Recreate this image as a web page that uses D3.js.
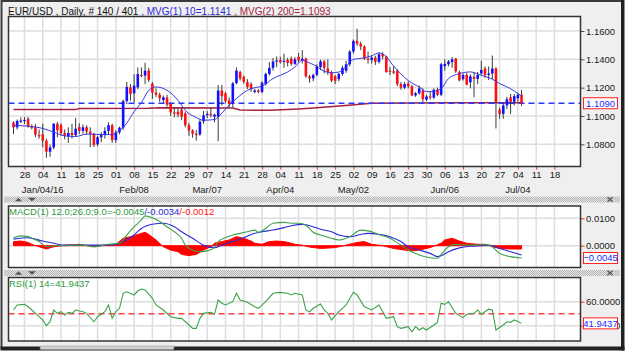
<!DOCTYPE html>
<html><head><meta charset="utf-8">
<script src="https://cdn.jsdelivr.net/npm/d3@7"></script>
<style>body{margin:0;background:#fff;}svg{display:block;font-family:"Liberation Sans",Arial,sans-serif;}</style>
</head><body><svg id="c" width="628" height="355"></svg>
<script>
// ---------- DATA ----------
const openV = [1.0953,1.0920,1.0963,1.0965,1.0979,1.0925,1.0920,1.0865,1.0870,1.0825,
1.0748,1.0778,1.0945,1.0935,1.0880,1.0855,1.0880,1.0865,1.0922,1.0895,
1.0920,1.0890,1.0875,1.0800,1.0850,1.0865,1.0895,1.0935,1.0830,1.0885,
1.0917,1.1105,1.1202,1.1160,1.1202,1.1290,1.1285,1.1320,1.1228,1.1165,
1.1150,1.1112,1.1130,1.1085,1.1025,1.1030,1.1045,1.1018,1.0935,1.0897,
1.0875,1.0870,1.0962,1.1005,1.1015,1.0995,1.0995,1.1180,1.1160,1.1110,
1.1085,1.1232,1.1310,1.1275,1.1240,1.1225,1.1170,1.1180,1.1170,1.1225,
1.1297,1.1340,1.1385,1.1395,1.1385,1.1395,1.1405,1.1368,1.1418,1.1392,
1.1405,1.1280,1.1265,1.1290,1.1345,1.1385,1.1335,1.1310,1.1280,1.1260,
1.1297,1.1320,1.1365,1.1455,1.1530,1.1510,1.1490,1.1405,1.1395,1.1412,
1.1382,1.1435,1.1420,1.1320,1.1315,1.1320,1.1225,1.1200,1.1230,1.1210,
1.1145,1.1160,1.1180,1.1115,1.1138,1.1130,1.1185,1.1150,1.1352,1.1365,
1.1380,1.1405,1.1310,1.1260,1.1290,1.1238,1.1275,1.1262,1.1300,1.1335,
1.1290,1.1300,1.1335,1.1045,1.1015,1.1075,1.1132,1.1100,1.1125,1.1150];
const highV = [1.0962,1.0975,1.0990,1.0993,1.0993,1.0940,1.0944,1.0905,1.0945,1.0840,
1.0798,1.0950,1.0958,1.0950,1.0905,1.0920,1.0945,1.0985,1.0948,1.0940,
1.0935,1.0920,1.0880,1.0860,1.0885,1.0920,1.0955,1.0945,1.0900,1.0925,
1.1115,1.1240,1.1225,1.1296,1.1343,1.1343,1.1376,1.1340,1.1240,1.1195,
1.1165,1.1145,1.1150,1.1095,1.1060,1.1055,1.1060,1.1030,1.0950,1.0907,
1.0900,1.0980,1.1035,1.1035,1.1058,1.1015,1.1218,1.1220,1.1170,1.1130,
1.1240,1.1342,1.1320,1.1285,1.1260,1.1238,1.1192,1.1190,1.1245,1.1305,
1.1380,1.1410,1.1420,1.1418,1.1440,1.1410,1.1420,1.1415,1.1445,1.1465,
1.1412,1.1290,1.1300,1.1365,1.1398,1.1395,1.1400,1.1320,1.1290,1.1305,
1.1355,1.1390,1.1465,1.1540,1.1616,1.1525,1.1500,1.1455,1.1425,1.1425,
1.1446,1.1450,1.1425,1.1345,1.1350,1.1330,1.1240,1.1240,1.1245,1.1220,
1.1170,1.1215,1.1195,1.1150,1.1170,1.1195,1.1200,1.1375,1.1400,1.1395,
1.1416,1.1410,1.1320,1.1300,1.1305,1.1295,1.1308,1.1310,1.1390,1.1350,
1.1350,1.1427,1.1345,1.1060,1.1090,1.1135,1.1155,1.1155,1.1165,1.1185];
const lowV = [1.0873,1.0905,1.0950,1.0942,1.0918,1.0905,1.0850,1.0840,1.0780,1.0705,
1.0712,1.0765,1.0850,1.0860,1.0835,1.0810,1.0840,1.0855,1.0873,1.0875,
1.0870,1.0780,1.0780,1.0785,1.0815,1.0840,1.0870,1.0810,1.0810,1.0870,
1.0900,1.1085,1.1108,1.1096,1.1190,1.1273,1.1225,1.1240,1.1120,1.1135,
1.1100,1.1090,1.1065,1.1000,1.0990,1.0990,1.0970,1.0920,1.0860,1.0846,
1.0826,1.0860,1.0945,1.0985,1.0990,1.0955,1.0822,1.1075,1.1090,1.1060,
1.1060,1.1225,1.1250,1.1228,1.1190,1.1170,1.1160,1.1160,1.1160,1.1215,
1.1285,1.1320,1.1345,1.1370,1.1340,1.1350,1.1355,1.1360,1.1380,1.1370,
1.1270,1.1235,1.1245,1.1280,1.1325,1.1300,1.1290,1.1240,1.1225,1.1245,
1.1285,1.1305,1.1350,1.1440,1.1495,1.1465,1.1395,1.1370,1.1370,1.1360,
1.1370,1.1400,1.1305,1.1290,1.1295,1.1210,1.1185,1.1190,1.1195,1.1140,
1.1135,1.1150,1.1098,1.1105,1.1115,1.1120,1.1140,1.1140,1.1320,1.1350,
1.1340,1.1305,1.1245,1.1250,1.1215,1.1195,1.1131,1.1225,1.1290,1.1270,
1.1255,1.1260,1.0912,1.0980,1.0980,1.1050,1.1015,1.1075,1.1100,1.1070];
const closeV = [1.0920,1.0965,1.0968,1.0972,1.0925,1.0918,1.0868,1.0860,1.0825,1.0748,
1.0778,1.0945,1.0900,1.0880,1.0860,1.0880,1.0865,1.0910,1.0895,1.0920,
1.0890,1.0875,1.0795,1.0850,1.0865,1.0895,1.0935,1.0830,1.0885,1.0917,
1.1105,1.1205,1.1155,1.1214,1.1296,1.1285,1.1320,1.1255,1.1165,1.1150,
1.1125,1.1132,1.1080,1.1025,1.1020,1.1010,1.0995,1.0935,1.0897,1.0875,
1.0865,1.0960,1.1005,1.1015,1.1005,1.1010,1.1180,1.1140,1.1105,1.1085,
1.1230,1.1320,1.1265,1.1240,1.1205,1.1190,1.1180,1.1170,1.1235,1.1297,
1.1340,1.1385,1.1392,1.1380,1.1390,1.1375,1.1368,1.1400,1.1392,1.1405,
1.1280,1.1265,1.1290,1.1350,1.1385,1.1340,1.1310,1.1250,1.1248,1.1297,
1.1340,1.1365,1.1455,1.1530,1.1510,1.1490,1.1405,1.1400,1.1412,1.1382,
1.1435,1.1420,1.1310,1.1315,1.1305,1.1225,1.1200,1.1225,1.1210,1.1145,
1.1160,1.1195,1.1118,1.1138,1.1130,1.1185,1.1150,1.1365,1.1368,1.1385,
1.1400,1.1315,1.1252,1.1290,1.1222,1.1280,1.1262,1.1290,1.1325,1.1290,
1.1300,1.1335,1.1100,1.1015,1.1075,1.1118,1.1100,1.1140,1.1150,1.1090];

const ma10Bar = [0,4,8,11,14,17,20,24,27,29,31,33,35,37,39,42,45,47,50,52,55,57,59,61,64,66,68,71,75,77,79,81,83,84,87,89,91,93,96,98,100,102,103,106,108,111,113,115,117,119,122,125,128,131,133,136,138,139];
const ma10Val = [1.0933,1.0928,1.0912,1.0886,1.0860,1.0855,1.0872,1.0869,1.0868,1.0897,1.0950,1.1030,1.1095,1.1180,1.1205,1.1181,1.1111,1.1040,1.0989,1.0970,1.0975,1.1020,1.1076,1.1123,1.1181,1.1200,1.1210,1.1264,1.1311,1.1346,1.1393,1.1374,1.1350,1.1330,1.1305,1.1310,1.1350,1.1400,1.1410,1.1425,1.1445,1.1420,1.1385,1.1297,1.1250,1.1205,1.1172,1.1175,1.1193,1.1264,1.1299,1.1311,1.1287,1.1260,1.1229,1.1193,1.1158,1.1141];
const ma200Bar = [0,17,18,37,40,60,62,70,78,82,90,98,120,139];
const ma200Val = [1.1045,1.1045,1.1052,1.1055,1.1058,1.1056,1.1042,1.1040,1.1050,1.1056,1.1072,1.1090,1.1093,1.1093];

const macdBar = [0,2,4,5,7,9,11,14,16,19,22,24,26,29,31,33,35,36,38,40,42,44,46,47,49,51,53,55,56,58,60,62,64,66,67,69,71,74,76,78,80,82,84,87,89,92,95,97,100,103,106,108,111,114,116,117,119,121,124,127,129,131,133,136,139];
const macdVal = [0.0029,0.0036,0.0033,0.0027,0.0015,-0.0004,0.0000,0.0000,0.0002,0.0002,-0.0004,0.0000,0.0005,0.0009,0.0039,0.0069,0.0094,0.0109,0.0102,0.0088,0.0069,0.0051,0.0027,0.0002,-0.0016,-0.0022,-0.0019,-0.0007,0.0015,0.0029,0.0039,0.0045,0.0051,0.0057,0.0049,0.0063,0.0082,0.0085,0.0082,0.0082,0.0075,0.0049,0.0039,0.0027,0.0021,0.0033,0.0057,0.0054,0.0041,0.0027,0.0002,-0.0016,-0.0034,-0.0044,-0.0046,-0.0032,-0.0004,0.0005,0.0002,0.0002,0.0005,-0.0004,-0.0028,-0.0040,-0.0045];
const sigBar = [0,4,5,8,11,14,18,24,28,30,33,35,38,41,44,46,49,52,55,57,60,63,65,68,71,74,76,79,81,84,87,89,92,95,97,100,103,106,108,111,114,116,117,119,122,125,128,130,133,136,139];
const sigVal = [0.0024,0.0029,0.0027,0.0017,0.0009,0.0002,0.0002,0.0002,0.0005,0.0015,0.0039,0.0063,0.0078,0.0082,0.0069,0.0051,0.0027,0.0002,-0.0007,0.0002,0.0015,0.0029,0.0041,0.0051,0.0057,0.0066,0.0073,0.0078,0.0073,0.0060,0.0051,0.0039,0.0033,0.0041,0.0045,0.0041,0.0033,0.0015,-0.0004,-0.0016,-0.0028,-0.0040,-0.0037,-0.0022,-0.0008,-0.0002,0.0000,0.0002,-0.0010,-0.0022,-0.0034];
const histBar = [0,2,4,5,7,9,11,14,18,22,25,28,30,32,34,36,37,39,41,43,45,46,48,50,52,54,55,57,59,61,63,65,66,68,70,72,74,76,77,79,81,84,88,91,94,96,98,101,104,107,109,111,114,117,118,120,122,124,127,129,131,133,136,139];
const histVal = [0.0015,0.0017,0.0012,0.0005,-0.0004,-0.0012,-0.0004,0.0002,0.0005,-0.0004,0.0002,0.0005,0.0027,0.0033,0.0041,0.0049,0.0041,0.0021,-0.0004,-0.0016,-0.0022,-0.0032,-0.0036,-0.0032,-0.0016,-0.0004,0.0009,0.0015,0.0021,0.0033,0.0027,0.0017,0.0009,0.0005,0.0015,0.0017,0.0015,0.0009,0.0005,0.0002,-0.0005,-0.0010,-0.0007,0.0002,0.0012,0.0015,0.0005,0.0000,-0.0010,-0.0016,-0.0019,-0.0016,-0.0007,0.0009,0.0021,0.0027,0.0017,0.0009,0.0005,0.0005,-0.0004,-0.0010,-0.0012,-0.0012];

const rsiBar = [0,1,3,4,5,7,8,9,10,11,12,13,14,15,16,17,19,20,22,23,25,26,27,28,29,30,31,33,34,35,36,38,39,41,43,45,46,48,49,50,51,52,54,55,56,57,58,60,61,62,64,66,67,69,71,73,75,76,77,79,80,81,82,84,85,86,87,89,90,91,93,94,96,97,98,100,101,102,104,105,106,108,109,110,111,112,113,115,116,117,118,119,121,122,123,124,126,127,128,130,131,132,134,135,136,137,138,139];
const rsiVal = [53.1,57.3,57.8,55.8,53.1,47.5,44.8,40.0,43.3,53.1,50.3,51.7,48.9,51.1,50.3,53.1,51.7,50.3,43.3,47.5,51.7,57.3,46.1,51.7,54.5,67.0,68.3,65.6,68.9,70.6,69.8,62.8,57.3,53.1,47.5,46.1,46.1,40.6,37.8,37.8,46.1,50.3,51.1,49.5,61.4,58.7,57.3,60.0,67.0,61.4,59.5,55.8,54.5,60.0,67.0,67.8,67.0,65.6,67.0,65.6,53.1,51.5,54.5,58.0,53.1,50.3,44.8,51.7,54.5,57.3,67.8,65.6,55.8,54.5,53.1,57.3,51.7,46.1,47.5,39.2,37.8,39.2,35.0,39.2,36.4,38.3,36.4,40.6,42.8,58.7,57.8,60.0,50.3,48.4,46.7,49.5,50.3,53.1,49.5,53.8,53.1,36.4,40.6,43.3,42.8,44.8,43.5,41.94];

const dayLabels = ["28","04","11","18","25","01","08","15","22","29","07","14","21","28","04","11","18","25","02","09","16","23","30","06","13","20","27","04","11","18"];
const weekBars = [3,8,13,18,23,28,33,38,43,48,53,58,63,68,73,78,83,88,93,98,103,108,113,118,123,128,133,138,143,148];
const monthLabels = ["Jan/04/16","Feb/08","Mar/07","Apr/04","May/02","Jun/06","Jul/04"];
const monthBars = [8,33,53,73,93,118,138];
const priceTicks = [1.08,1.10,1.12,1.14,1.16];
const macdTicks = [0.01,0.0];
const rsiTicks = [60,40];
const lastPrice = 1.1090, lastMacd = -0.0045, lastRsi = 41.9437;

// ---------- LAYOUT ----------
const L = 8.5, R = 580.5;
const P = {top:16.5, bot:166.5}, M = {top:206, bot:267.5}, Q = {top:277.5, bot:341};
const FS = "9.5px", TXT = "#1a1a1a";

const svg = d3.select("#c");
const defs = svg.append("defs");
const pat = defs.append("pattern").attr("id","hatch").attr("width",2).attr("height",2).attr("patternUnits","userSpaceOnUse");
pat.append("rect").attr("width",2).attr("height",2).attr("fill","#e6e6e6");
pat.append("rect").attr("width",1).attr("height",1).attr("fill","#b4b4b4");
pat.append("rect").attr("x",1).attr("y",1).attr("width",1).attr("height",1).attr("fill","#b4b4b4");
[["cp",P],["cm",M],["cq",Q]].forEach(([id,b])=>{
  defs.append("clipPath").attr("id",id).append("rect").attr("x",L).attr("y",b.top).attr("width",R-L).attr("height",b.bot-b.top);
});

// outer window
svg.append("rect").attr("width",628).attr("height",355).attr("fill","#fff");
svg.append("rect").attr("x",1.5).attr("y",1).attr("width",621).attr("height",347).attr("fill","#efefef").attr("stroke","#3a3a3a").attr("stroke-width",2);
svg.append("rect").attr("x",621).attr("y",0).attr("width",3.5).attr("height",350.5).attr("fill","#222");
svg.append("rect").attr("x",0.5).attr("y",346.5).attr("width",624).attr("height",4).attr("fill","#222");
svg.append("rect").attr("x",40).attr("y",346).attr("width",134).attr("height",3.5).attr("rx",1.5).attr("fill","#d2d2d2").attr("stroke","#9a9a9a").attr("stroke-width",0.6);

// scales
const x = d3.scaleLinear().domain([0,139]).range([13.5, 13.5+139*3.655]);
const yP = d3.scaleLinear().domain([1.08,1.16]).range([144.3,31]);
const yM = d3.scaleLinear().domain([-0.01,0.01]).range([273.1,218.3]);
const yQ = d3.scaleLinear().domain([40,60]).range([325.7,301.7]);

// separators
[196.5, 270].forEach(yy=>{
  svg.append("rect").attr("x",4).attr("y",yy).attr("width",616).attr("height",6).attr("fill","url(#hatch)");
  svg.append("path").attr("d",`M15,${yy+4.8}L18.5,${yy+1.2}L22,${yy+4.8}Z`).attr("fill","#555");
  svg.append("path").attr("d",`M28,${yy+1.2}L36,${yy+1.2}L32,${yy+4.8}Z`).attr("fill","#555");
  svg.append("path").attr("d",`M607.5,${yy+0.8}L612.5,${yy+5.2}M612.5,${yy+0.8}L607.5,${yy+5.2}`).attr("stroke","#555").attr("stroke-width",1.3);
});

function panel(b, yS, ticks, tickColor, fmt){
  svg.append("rect").attr("x",L).attr("y",b.top).attr("width",R-L).attr("height",b.bot-b.top).attr("fill","#fff");
  const g = svg.append("g");
  g.selectAll("line.v").data(weekBars).join("line").attr("x1",d=>x(d)).attr("x2",d=>x(d)).attr("y1",b.top).attr("y2",b.bot).attr("stroke","#dedede").attr("stroke-width",1.5);
  g.selectAll("line.h").data(ticks).join("line").attr("class","h").attr("x1",L).attr("x2",R).attr("y1",d=>yS(d)).attr("y2",d=>yS(d)).attr("stroke","#dedede").attr("stroke-width",1.5);
  const ax = svg.append("g").attr("transform",`translate(${R},0)`).call(d3.axisRight(yS).tickValues(ticks).tickFormat(fmt).tickSize(4).tickPadding(1.5));
  ax.select(".domain").remove();
  ax.selectAll("line").attr("stroke",tickColor).attr("stroke-width",1);
  ax.selectAll("text").attr("font-size",FS).attr("fill",TXT).attr("font-family","Liberation Sans, Arial, sans-serif");
}
panel(P, yP, priceTicks, "#555", d3.format(".4f"));
panel(M, yM, macdTicks, "#ff2020", d3.format(".4f"));
panel(Q, yQ, rsiTicks, "#ff2020", d3.format(".4f"));

// x axis
const xa = svg.append("g").attr("transform",`translate(0,${P.bot})`).call(d3.axisBottom(x).tickValues(weekBars).tickFormat((d,i)=>dayLabels[i]).tickSize(3).tickPadding(2));
xa.select(".domain").remove();
xa.selectAll("line").attr("stroke","#ff2020");
xa.selectAll("text").attr("font-size",FS).attr("fill",TXT).attr("font-family","Liberation Sans, Arial, sans-serif");
svg.append("g").selectAll("text").data(monthBars).join("text").attr("x",d=>x(d)).attr("y",192.5).attr("text-anchor","middle").attr("font-size",FS).attr("fill",TXT).text((d,i)=>monthLabels[i]);

// ---------- MAIN PRICE ----------
const gp = svg.append("g").attr("clip-path","url(#cp)");
const idx = d3.range(openV.length);
gp.append("path").datum(ma200Bar.map((b,i)=>[b,ma200Val[i]])).attr("fill","none").attr("stroke","#a3213f").attr("stroke-width",1.5)
  .attr("d",d3.line().x(d=>x(d[0])).y(d=>yP(d[1])));
gp.append("line").attr("x1",L).attr("x2",R).attr("y1",yP(lastPrice)).attr("y2",yP(lastPrice)).attr("stroke","#2438ff").attr("stroke-width",1.5).attr("stroke-dasharray","6,4");
gp.selectAll("line.w").data(idx).join("line").attr("x1",i=>x(i)).attr("x2",i=>x(i)).attr("y1",i=>yP(highV[i])).attr("y2",i=>yP(lowV[i])).attr("stroke","#3a3a3a").attr("stroke-width",1);
gp.selectAll("rect.b").data(idx).join("rect")
  .attr("x",i=>x(i)-1.3).attr("width",2.6)
  .attr("y",i=>yP(Math.max(openV[i],closeV[i])))
  .attr("height",i=>Math.max(1.2, yP(Math.min(openV[i],closeV[i]))-yP(Math.max(openV[i],closeV[i]))))
  .attr("fill",i=>closeV[i]>=openV[i]?"#1010ff":"#ff1010");
gp.append("path").datum(ma10Bar.map((b,i)=>[b,ma10Val[i]])).attr("fill","none").attr("stroke","#3a3ae0").attr("stroke-width",1)
  .attr("d",d3.line().curve(d3.curveMonotoneX).x(d=>x(d[0])).y(d=>yP(d[1])));
svg.append("rect").attr("x",L).attr("y",P.top).attr("width",R-L).attr("height",P.bot-P.top).attr("fill","none").attr("stroke","#333").attr("stroke-width",1.5);

// ---------- MACD ----------
const gm = svg.append("g").attr("clip-path","url(#cm)");
gm.append("path").datum(histBar.map((b,i)=>[b,histVal[i]])).attr("fill","#ff0000").attr("stroke","#ff0000").attr("stroke-width",1)
  .attr("d",d3.area().x(d=>x(d[0])).y0(yM(0)).y1(d=>yM(d[1])));
gm.append("path").datum(sigBar.map((b,i)=>[b,sigVal[i]])).attr("fill","none").attr("stroke","#2a2ad8").attr("stroke-width",1.1)
  .attr("d",d3.line().curve(d3.curveMonotoneX).x(d=>x(d[0])).y(d=>yM(d[1])));
gm.append("path").datum(macdBar.map((b,i)=>[b,macdVal[i]])).attr("fill","none").attr("stroke","#3ba24b").attr("stroke-width",1.1)
  .attr("d",d3.line().curve(d3.curveMonotoneX).x(d=>x(d[0])).y(d=>yM(d[1])));
svg.append("rect").attr("x",L).attr("y",M.top).attr("width",R-L).attr("height",M.bot-M.top).attr("fill","none").attr("stroke","#333").attr("stroke-width",1.5);

// ---------- RSI ----------
const gq = svg.append("g").attr("clip-path","url(#cq)");
gq.append("line").attr("x1",L).attr("x2",R).attr("y1",yQ(50)).attr("y2",yQ(50)).attr("stroke","#ff4040").attr("stroke-width",1.5).attr("stroke-dasharray","6,4");
gq.append("path").datum(rsiBar.map((b,i)=>[b,rsiVal[i]])).attr("fill","none").attr("stroke","#3ba24b").attr("stroke-width",1.1)
  .attr("d",d3.line().x(d=>x(d[0])).y(d=>yQ(d[1])));
svg.append("rect").attr("x",L).attr("y",Q.top).attr("width",R-L).attr("height",Q.bot-Q.top).attr("fill","none").attr("stroke","#333").attr("stroke-width",1.5);

// ---------- value boxes ----------
function box(yc, label){
  svg.append("rect").attr("x",583.5).attr("y",yc-5.5).attr("width",34).attr("height",11).attr("fill","#fff").attr("stroke","#ff2020").attr("stroke-width",1);
  svg.append("text").attr("x",600.5).attr("y",yc).attr("dy","0.35em").attr("text-anchor","middle").attr("font-size",FS).attr("fill","#1a2cff").text(label);
}
box(yP(lastPrice), d3.format(".4f")(lastPrice));
box(yM(lastMacd), d3.format(".4f")(lastMacd));
box(yQ(lastRsi), d3.format(".4f")(lastRsi));

// ---------- titles ----------
const t = svg.append("text").attr("x",8).attr("y",14.5).attr("font-size","10px");
t.append("tspan").attr("fill","#111").text("EUR/USD , Daily, # 140 / 401 ");
t.append("tspan").attr("fill","#2a2ad8").text(", MVG(1) 10=" + ma10Val[ma10Val.length-1].toFixed(4) + " ");
t.append("tspan").attr("fill","#a3213f").text(", MVG(2) 200=" + ma200Val[ma200Val.length-1].toFixed(4));
const tm = svg.append("text").attr("x",9).attr("y",214.5).attr("font-size",FS);
tm.append("tspan").attr("fill","#2e9a3e").text("MACD(1) 12.0;26.0;9.0=" + lastMacd.toFixed(4));
tm.append("tspan").attr("fill","#2a2ad8").text("/" + sigVal[sigVal.length-1].toFixed(4));
tm.append("tspan").attr("fill","#ff2020").text("/" + histVal[histVal.length-1].toFixed(4));
svg.append("text").attr("x",9).attr("y",287).attr("font-size",FS).attr("fill","#2e9a3e").text("RSI(1) 14=" + lastRsi.toFixed(4));
</script></body></html>
